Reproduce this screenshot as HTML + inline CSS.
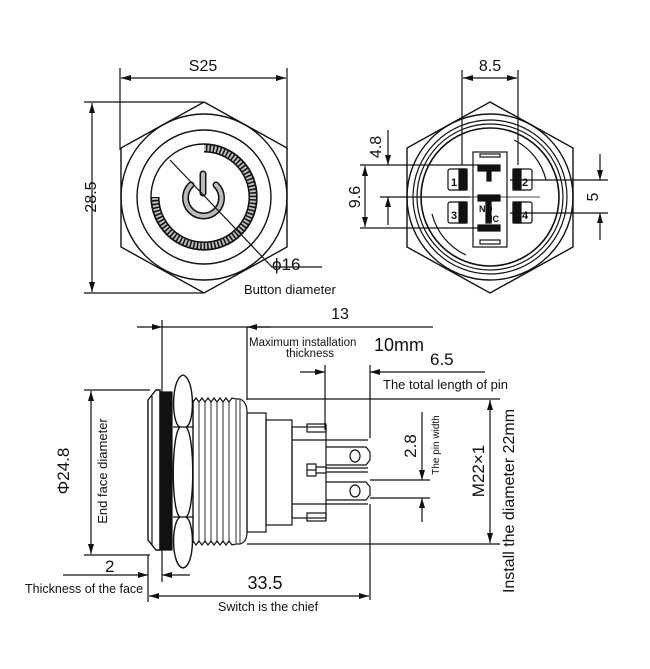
<!DOCTYPE html>
<html><head><meta charset="utf-8"><style>
html,body{margin:0;padding:0;background:#fff}
svg{display:block}
text{font-family:"Liberation Sans",sans-serif;fill:#111}
</style></head><body>
<svg width="650" height="669" viewBox="0 0 650 669" xmlns="http://www.w3.org/2000/svg">
<defs>
<marker id="a" viewBox="0 0 10 6" refX="10" refY="3" markerWidth="10" markerHeight="6" orient="auto-start-reverse" markerUnits="userSpaceOnUse"><path d="M0,0 L10,3 L0,6 z" fill="#111"/></marker>
</defs>
<g stroke="#111" fill="none" stroke-width="1.2">
<!-- TOP LEFT VIEW -->
<line x1="120" y1="68" x2="120" y2="150"/>
<line x1="287" y1="68" x2="287" y2="150"/>
<line x1="121" y1="78" x2="286" y2="78" marker-start="url(#a)" marker-end="url(#a)"/>
<line x1="84" y1="102" x2="203" y2="102"/>
<line x1="84" y1="293" x2="203" y2="293"/>
<line x1="92" y1="103" x2="92" y2="292" marker-start="url(#a)" marker-end="url(#a)"/>
<polygon points="204,102 287,148 287,247 204,293 121,247 121,148" stroke-width="1.4"/>
<circle cx="204" cy="197" r="83" stroke-width="1.4"/>
<circle cx="204" cy="197" r="67" stroke-width="1.4"/>
<circle cx="204" cy="197" r="53" stroke-width="1.4"/>
<path d="M204,148 A49,49 0 1 1 155,197" stroke="#111" stroke-width="9"/>
<path d="M204,148 A49,49 0 1 1 155,197" stroke="#bbb" stroke-width="6" stroke-dasharray="2 1.5"/>
<path d="M191,185 A18,18 0 1 0 216,185" stroke="#111" stroke-width="7" stroke-linecap="round"/>
<path d="M191,185 A18,18 0 1 0 216,185" stroke="#bbb" stroke-width="4" stroke-linecap="round" stroke-dasharray="2 1.5"/>
<line x1="203" y1="174" x2="203" y2="193" stroke-width="7" stroke-linecap="round"/>
<line x1="203" y1="174" x2="203" y2="193" stroke="#bbb" stroke-width="4" stroke-linecap="round" stroke-dasharray="2 1.5"/>
<polyline points="170,160 272,267 322,267"/>

<!-- TOP RIGHT VIEW -->
<line x1="462" y1="70" x2="462" y2="165"/>
<line x1="518" y1="70" x2="518" y2="165"/>
<line x1="463" y1="78" x2="517" y2="78" marker-start="url(#a)" marker-end="url(#a)"/>
<polygon points="490,102 573,148 573,247 490,293 407,247 407,148" stroke-width="1.4"/>
<circle cx="490" cy="197" r="83" stroke-width="1.4"/>
<circle cx="490" cy="197" r="77"/>
<circle cx="490" cy="197" r="73"/>
<circle cx="490" cy="197" r="69" stroke-width="1.6"/>
<path d="M432,214 A62,62 0 0 0 466,255 M546,180 A60,60 0 0 0 514,140" />
<rect x="473" y="152" width="34" height="95"/>
<rect x="480" y="154" width="20" height="3"/>
<rect x="480" y="240" width="20" height="4"/>
<rect x="478" y="165" width="22" height="6" fill="#111"/>
<rect x="487" y="171" width="4" height="10" fill="#111"/>
<rect x="478" y="195" width="22" height="6" fill="#111"/>
<rect x="486" y="201" width="5" height="22" fill="#111"/>
<rect x="478" y="225" width="22" height="6" fill="#111"/>
<rect x="448" y="169" width="19" height="21" rx="2"/>
<rect x="448" y="202" width="19" height="21" rx="2"/>
<rect x="513" y="169" width="19" height="21" rx="2"/>
<rect x="513" y="202" width="19" height="21" rx="2"/>
<rect x="459" y="169" width="8" height="21" fill="#111"/>
<rect x="459" y="202" width="8" height="21" fill="#111"/>
<rect x="513" y="169" width="8" height="21" fill="#111"/>
<rect x="513" y="202" width="8" height="21" fill="#111"/>
<line x1="440" y1="197" x2="540" y2="197" stroke-width="0.8"/>
<!-- left dims -->
<line x1="360" y1="165" x2="478" y2="165"/>
<line x1="380" y1="197" x2="470" y2="197"/>
<line x1="360" y1="228" x2="478" y2="228"/>
<line x1="388" y1="130" x2="388" y2="165" marker-end="url(#a)"/>
<line x1="388" y1="225" x2="388" y2="197" marker-end="url(#a)"/>
<line x1="365" y1="166" x2="365" y2="227" marker-start="url(#a)" marker-end="url(#a)"/>
<!-- right dim 5 -->
<line x1="510" y1="180" x2="608" y2="180"/>
<line x1="510" y1="213" x2="608" y2="213"/>
<line x1="600" y1="154" x2="600" y2="180" marker-end="url(#a)"/>
<line x1="600" y1="240" x2="600" y2="213" marker-end="url(#a)"/>

<!-- BOTTOM VIEW -->
<line x1="137" y1="327" x2="162" y2="327" marker-end="url(#a)"/>
<line x1="162" y1="327" x2="433" y2="327"/>
<line x1="270" y1="327" x2="247" y2="327" marker-end="url(#a)"/>
<line x1="162" y1="320" x2="162" y2="582"/>
<line x1="247" y1="327" x2="247" y2="400"/>
<line x1="300" y1="372" x2="325" y2="372" marker-end="url(#a)"/>
<line x1="395" y1="372" x2="485" y2="372"/>
<line x1="395" y1="372" x2="370" y2="372" marker-end="url(#a)"/>
<line x1="325" y1="365" x2="325" y2="430"/>
<line x1="370" y1="365" x2="370" y2="438"/>
<line x1="370" y1="504" x2="370" y2="600"/>
<!-- body -->
<path d="M148,400 L156,390 L160,390 L160,550 L156,550 L148,540 Z" stroke-width="1.4"/>
<line x1="152" y1="396" x2="152" y2="545"/>
<rect x="160" y="392" width="12" height="158" fill="#111"/>
<path d="M183,375 C195,378 195,424 186,427 C195,435 195,512 186,517 C195,522 195,566 183,568 C171,566 171,522 180,517 C171,512 171,435 180,427 C171,424 171,378 183,375 Z" stroke-width="1.4"/>
<path d="M173,427 L193,427 M173,517 L193,517"/>
<polyline points="193,402 196,398 199,402 202,398 205,402 208,398 211,402 214,398 217,402 220,398 223,402 226,398 229,402 232,398 236,399 240,399"/>
<polyline points="193,541 196,545 199,541 202,545 205,541 208,545 211,541 214,545 217,541 220,545 223,541 226,545 229,541 232,545 236,544 240,544"/>
<line x1="193" y1="400" x2="193" y2="543" stroke-width="1.4"/>
<path d="M240,399 Q247,402 247,412 L247,532 Q247,542 240,544"/>
<g stroke-width="0.9">
<line x1="199" y1="402" x2="199" y2="541"/><line x1="205" y1="402" x2="205" y2="541"/><line x1="211" y1="402" x2="211" y2="541"/><line x1="217" y1="402" x2="217" y2="541"/><line x1="223" y1="402" x2="223" y2="541"/><line x1="229" y1="402" x2="229" y2="541"/><line x1="236" y1="400" x2="236" y2="543"/><line x1="240" y1="400" x2="240" y2="543"/>
</g>
<line x1="247" y1="399" x2="500" y2="399"/>
<line x1="247" y1="544" x2="500" y2="544"/>
<rect x="247" y="413" width="19" height="119"/>
<rect x="266" y="420" width="26" height="105"/>
<rect x="292" y="427" width="34" height="91"/>
<line x1="292" y1="440" x2="368" y2="440"/>
<line x1="292" y1="504" x2="368" y2="504"/>
<rect x="307" y="424" width="19" height="8"/>
<rect x="307" y="513" width="19" height="8"/>
<path d="M326,447 L366,447 L370,452 L370,460 L366,465 L326,465"/>
<path d="M326,482 L366,482 L370,487 L370,495 L366,500 L326,500"/>
<ellipse cx="355" cy="456" rx="5" ry="6"/>
<ellipse cx="355" cy="491" rx="5" ry="6"/>
<rect x="307" y="464" width="9" height="12"/>
<line x1="307" y1="470" x2="316" y2="470"/>
<path d="M316,467 L326,467 M316,473 L326,473 M326,468 L368,468 M326,472 L368,472"/>
<!-- 24.8 -->
<line x1="84" y1="390" x2="150" y2="390"/>
<line x1="84" y1="555" x2="150" y2="555"/>
<line x1="91" y1="391" x2="91" y2="554" marker-start="url(#a)" marker-end="url(#a)"/>
<!-- 2 -->
<line x1="63" y1="575" x2="148" y2="575" marker-end="url(#a)"/>
<line x1="190" y1="575" x2="162" y2="575" marker-end="url(#a)"/>
<line x1="148" y1="555" x2="148" y2="602"/>
<!-- 33.5 -->
<line x1="149" y1="596" x2="369" y2="596" marker-start="url(#a)" marker-end="url(#a)"/>
<!-- M22 -->
<line x1="490" y1="400" x2="490" y2="543" marker-start="url(#a)" marker-end="url(#a)"/>
<!-- 2.8 -->
<line x1="370" y1="480" x2="430" y2="480"/>
<line x1="370" y1="498" x2="430" y2="498"/>
<line x1="422" y1="412" x2="422" y2="480" marker-end="url(#a)"/>
<line x1="422" y1="522" x2="422" y2="498" marker-end="url(#a)"/>
</g>
<g font-size="16">
<text x="203" y="71" text-anchor="middle">S25</text>
<text x="490" y="71" text-anchor="middle">8.5</text>
<text transform="translate(96,197) rotate(-90)" text-anchor="middle">28.5</text>
<text x="272" y="270" font-size="17">ϕ16</text>
<text transform="translate(381,147) rotate(-90)" text-anchor="middle">4.8</text>
<text transform="translate(360,197) rotate(-90)" text-anchor="middle">9.6</text>
<text transform="translate(598,197) rotate(-90)" text-anchor="middle">5</text>
<text x="340" y="319" text-anchor="middle">13</text>
<text x="374" y="351" font-size="18">10mm</text>
<text x="430" y="365" font-size="17">6.5</text>
<text x="105" y="572" font-size="17">2</text>
<text x="265" y="589" font-size="18" text-anchor="middle">33.5</text>
<text transform="translate(69,471) rotate(-90)" text-anchor="middle" font-size="17">Φ24.8</text>
<text transform="translate(416,446) rotate(-90)" text-anchor="middle" font-size="17">2.8</text>
<text transform="translate(484,471) rotate(-90)" text-anchor="middle" font-size="17">M22×1</text>
<text transform="translate(514,501) rotate(-90)" text-anchor="middle" font-size="16">Install the diameter 22mm</text>
</g>
<g font-size="13">
<text x="244" y="294">Button diameter</text>
<text x="249" y="346" font-size="11.5">Maximum installation</text>
<text x="310" y="357" font-size="11.5" text-anchor="middle">thickness</text>
<text x="383" y="389">The total length of pin</text>
<text transform="translate(107,471) rotate(-90)" text-anchor="middle">End face diameter</text>
<text transform="translate(439,445) rotate(-90)" text-anchor="middle" font-size="10">The pin width</text>
<text x="25" y="593" font-size="12.5">Thickness of the face</text>
<text x="218" y="611" font-size="12.5">Switch is the chief</text>
</g>
<g font-size="11" font-weight="bold">
<text x="451" y="186">1</text><text x="451" y="219">3</text>
<text x="522" y="186">2</text><text x="522" y="219">4</text>
<text x="479" y="212" font-size="9">NO</text><text x="486" y="222" font-size="9">NC</text>
</g>
</svg>
</body></html>
